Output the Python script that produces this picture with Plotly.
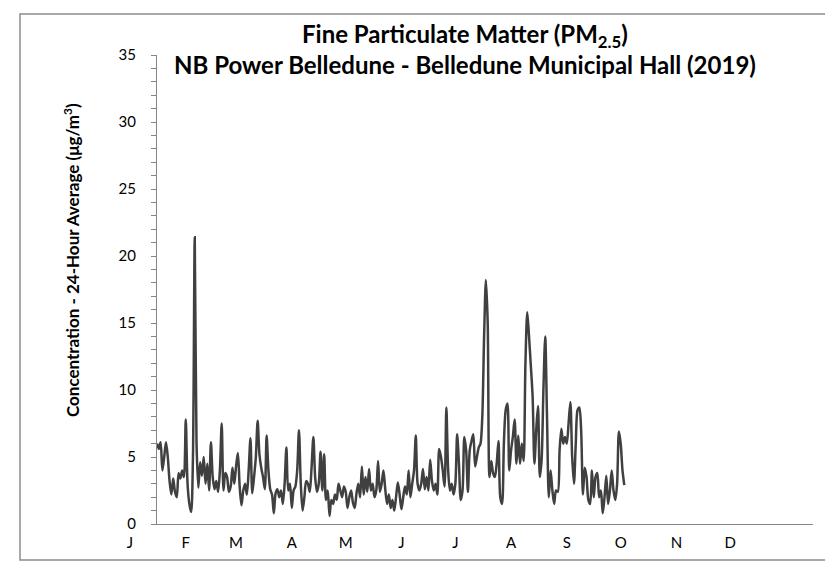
import pandas as pd
import plotly.graph_objects as go

start_date = "2019-01-01"
pm25 = [
    6.0, 5.6, 6.1, 4.0, 5.0, 6.1, 5.0, 3.2, 2.2, 3.4, 2.4, 2.0, 3.8, 3.4, 4.0, 3.5,
    7.8, 3.0, 1.5, 0.9, 5.0, 21.4, 6.0, 2.7, 4.6, 3.6, 5.0, 3.0, 4.5, 2.5, 6.1,
    3.5, 2.6, 3.2, 2.4, 4.0, 7.5, 2.5, 3.8, 3.5, 2.4, 2.8, 4.2, 3.0, 4.3, 5.3,
    2.8, 1.4, 2.5, 3.0, 2.2, 4.0, 6.4, 2.3, 3.5, 5.0, 7.7, 5.2, 4.2, 3.5, 2.6,
    6.6, 4.0, 2.6, 2.2, 0.8, 2.3, 2.6, 2.0, 2.5, 1.5, 3.0, 5.7, 2.5, 3.0, 1.2,
    2.5, 2.8, 4.0, 7.0, 3.0, 1.0, 2.0, 3.2, 3.0, 2.4, 4.2, 6.5, 3.5, 2.4, 3.0,
    5.4, 2.5, 5.2, 1.8, 2.5, 0.6, 1.8, 1.5, 2.2, 1.8, 3.0, 2.5, 2.0, 2.8, 2.4,
    1.2, 2.0, 2.5, 1.6, 1.2, 2.3, 3.0, 2.0, 4.3, 2.2, 3.5, 2.4, 4.1, 2.5, 3.0,
    2.0, 2.5, 4.7, 2.4, 3.0, 4.0, 2.6, 1.5, 2.2, 1.2, 1.8, 1.0, 2.0, 3.1, 2.2,
    1.1, 2.0, 2.8, 2.2, 4.0, 2.0, 3.0, 4.0, 6.6, 3.0, 2.5, 3.0, 4.1, 2.6, 3.5,
    2.5, 4.8, 3.2, 2.5, 3.0, 2.2, 5.6, 5.0, 4.0, 2.8, 8.7, 4.0, 2.5, 3.0, 2.2,
    3.0, 6.7, 4.5, 1.8, 2.5, 6.5, 5.5, 2.4, 5.5, 6.2, 6.7, 4.3, 5.0, 5.7, 6.0,
    8.0, 14.0, 18.2, 15.0, 3.5, 4.7, 3.8, 3.5, 4.5, 6.2, 2.0, 1.5, 6.0, 8.5, 9.0,
    4.0, 5.5, 6.5, 7.8, 4.5, 6.6, 4.5, 6.0, 4.7, 12.0, 15.8, 14.0, 11.8, 9.5, 4.5,
    7.0, 8.8, 3.5, 4.8, 10.0, 14.0, 8.0, 2.0, 4.0, 2.5, 1.5, 2.5, 2.4, 5.5, 7.1,
    6.0, 6.5, 6.0, 7.5, 9.1, 5.0, 3.0, 6.0, 8.5, 8.7, 7.0, 2.2, 4.2, 3.5, 1.8,
    1.5, 4.0, 2.0, 3.5, 3.8, 2.0, 2.5, 0.8, 2.0, 3.6, 1.5, 2.5, 4.0, 2.5, 1.8,
    3.0, 6.9, 6.0, 4.0, 2.9,
]
month_starts = [f"2019-{m:02d}-01" for m in range(1, 13)]
month_labels = ["J", "F", "M", "A", "M", "J", "J", "A", "S", "O", "N", "D"]
y_ticks = [0, 5, 10, 15, 20, 25, 30, 35]

dates = pd.date_range(start_date, periods=len(pm25), freq="D")

FONT = "Lato"
fig = go.Figure()
fig.add_trace(go.Scatter(
    x=dates, y=pm25, mode="lines",
    line=dict(color="#404040", width=2.5, shape="spline", smoothing=0.8),
    showlegend=False, hoverinfo="skip",
))

fig.update_layout(
    width=833, height=566,
    margin=dict(l=149, r=28, t=47, b=50),
    paper_bgcolor="white", plot_bgcolor="white",
    font=dict(family=FONT, color="black", size=15),
    xaxis=dict(
        type="date", range=["2019-01-01", "2020-01-01"],
        tickvals=month_starts, ticktext=month_labels,
        showgrid=False, zeroline=False,
        showline=True, linecolor="#868686", linewidth=1,
        ticks="", tickfont=dict(size=15, family=FONT),
        ticklabelshift=-27, ticklabelstandoff=5,
    ),
    yaxis=dict(
        range=[0, 35], tickvals=y_ticks,
        showgrid=False, zeroline=False,
        showline=True, linecolor="#868686", linewidth=1,
        ticks="outside", ticklen=5, tickcolor="#868686",
        minor=dict(dtick=1, ticks="outside", ticklen=5, tickcolor="#868686"),
        tickfont=dict(size=15, family=FONT),
        ticklabelstandoff=12,
    ),
)

fig.add_annotation(
    text="<b>Fine Particulate Matter (PM<sub>2.5</sub>)</b>",
    xref="paper", yref="paper", x=0.47, y=(516 - 27) / 469,
    xanchor="center", yanchor="middle", showarrow=False,
    font=dict(family=FONT, size=24, color="black"),
)
fig.add_annotation(
    text="<b>NB Power Belledune - Belledune Municipal Hall (2019)</b>",
    xref="paper", yref="paper", x=0.47, y=(516 - 56) / 469,
    xanchor="center", yanchor="middle", showarrow=False,
    font=dict(family=FONT, size=24, color="black"),
)
fig.add_annotation(
    text="<b>Concentration - 24-Hour Average (μg/m<sup>3</sup>)</b>",
    xref="paper", yref="paper", x=(63 - 149) / 656, y=(516 - 252) / 469,
    xanchor="center", yanchor="middle", showarrow=False, textangle=-90,
    font=dict(family=FONT, size=17, color="black"),
)
fig.add_shape(
    type="rect", xref="paper", yref="paper",
    x0=(12 - 149) / 656, x1=(826 - 149) / 656,
    y0=(516 - 552) / 469, y1=(516 - 6) / 469,
    line=dict(color="#8c8c8c", width=1.5), fillcolor="rgba(0,0,0,0)",
)

fig.write_html("out.html")
